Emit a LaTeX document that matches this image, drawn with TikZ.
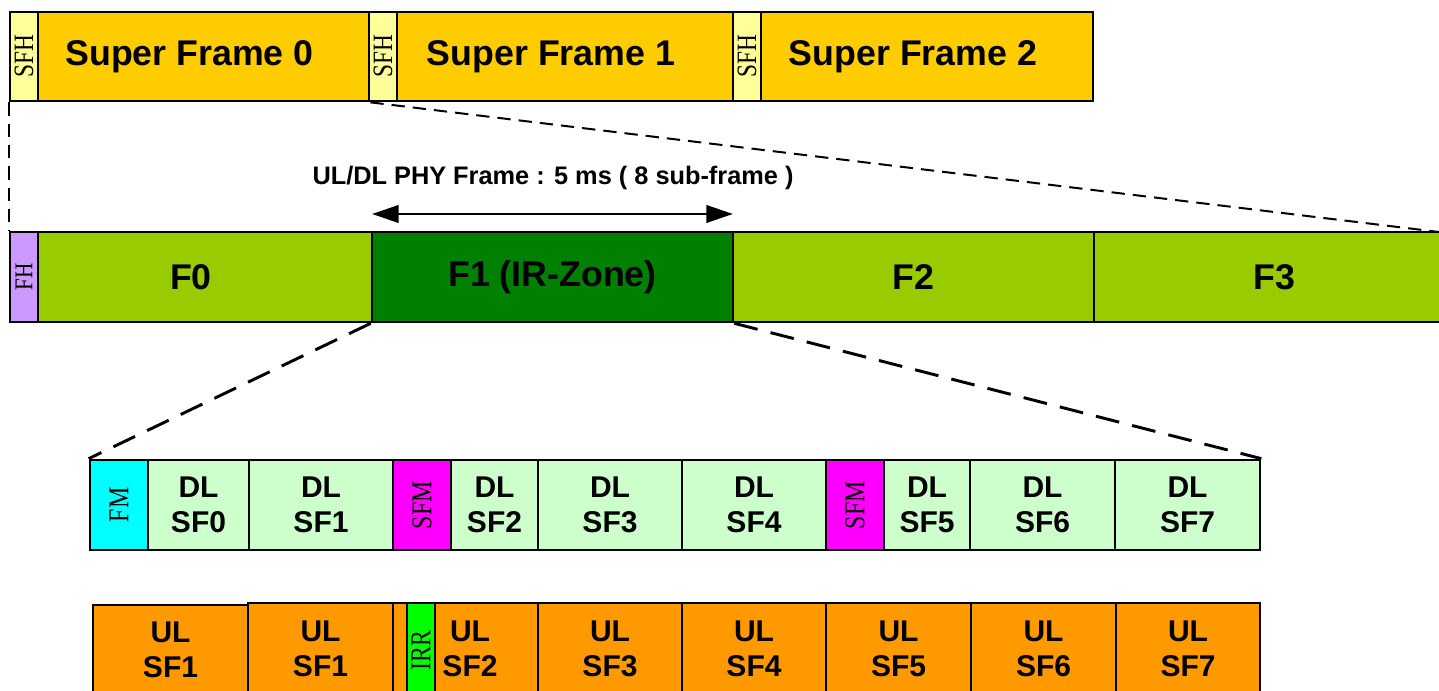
\documentclass[tikz,border=0pt]{standalone}
\usepackage{fontspec}
\setmainfont{Liberation Sans}
\newfontfamily\seriffont{Liberation Serif}
\usetikzlibrary{fit,arrows.meta}
\definecolor{sfc}{HTML}{FFCC00}
\definecolor{sfh}{HTML}{FFFF99}
\definecolor{fhc}{HTML}{CC99FF}
\definecolor{fc}{HTML}{99CC00}
\definecolor{firc}{HTML}{008000}
\definecolor{fmc}{HTML}{00FFFF}
\definecolor{sfmc}{HTML}{FF00FF}
\definecolor{dlc}{HTML}{CCFFCC}
\definecolor{ulc}{HTML}{FF9900}
\definecolor{irrc}{HTML}{00FF00}
\newcommand{\tallstr}[1]{\scalebox{1}[1.2]{#1}}
\tikzset{
  box/.style={draw=black, line width=2pt, inner sep=0pt},
  bigtxt/.style={font=\fontsize{26.8}{30}\selectfont\bfseries, inner sep=0pt},
  subtxt/.style={align=center, font=\fontsize{22.5}{26}\selectfont\bfseries, inner sep=0pt},
  vlabel/.style={rotate=90, font=\fontsize{17.5}{20}\selectfont\seriffont, inner sep=0pt},
  zoomA/.style={dash pattern=on 10pt off 6pt, line width=1.5pt},
  zoomB/.style={dash pattern=on 18pt off 10pt, line width=2.2pt},
  dlbox/.style={box, fill=dlc},
  ulbox/.style={box, fill=ulc},
}
\begin{document}
\begin{tikzpicture}[x=0.75pt,y=-0.75pt]
\useasboundingbox (0,0) rectangle (1439,691);
\clip (0,0) rectangle (1439,691);
% super frames
\node[box, fill=sfc, fit={(10,12) (369,101)}, label={[bigtxt]center:Super Frame 0}] (sf0) {};
\node[box, fill=sfc, fit={(369,12) (733,101)}, label={[bigtxt]center:Super Frame 1}] (sf1) {};
\node[box, fill=sfc, fit={(733,12) (1093,101)}, label={[bigtxt]center:Super Frame 2}] (sf2) {};
\node[box, fill=sfh, fit={(10,12) (38,101)}] (h0) {};
\node[box, fill=sfh, fit={(369,12) (397,101)}] (h1) {};
\node[box, fill=sfh, fit={(733,12) (761,101)}] (h2) {};
\node[vlabel] (h0t) at (h0) {\tallstr{SFH}};
\node[vlabel] (h1t) at (h1) {\tallstr{SFH}};
\node[vlabel] (h2t) at (h2) {\tallstr{SFH}};
% frames
\node[box, fill=fc, fit={(10,232) (372,322)}, label={[bigtxt]center:F0}] (f0) {};
\node[box, fill=firc, fit={(372,232) (733,322)}, label={[bigtxt]center:F1 (IR-Zone)}] (f1) {};
\node[box, fill=fc, fit={(733,232) (1094,322)}, label={[bigtxt]center:F2}] (f2) {};
\node[box, fill=fc, fit={(1094,232) (1455,322)}, label={[bigtxt]center:F3}] (f3) {};
\node[box, fill=fhc, fit={(10,232) (38,322)}] (fh) {};
\node[vlabel, font=\fontsize{16}{19}\selectfont\seriffont] (fht) at (fh) {\tallstr{FH}};
% arrow
\coordinate (a1) at (372,214);
\coordinate (a2) at (733,214);
\draw[line width=2.2pt, {Triangle[length=20pt,width=13pt]}-{Triangle[length=20pt,width=13pt]}] (a1) -- (a2);
\node[font=\fontsize{19}{22}\selectfont\bfseries] (lab) at (553,178) {UL/DL PHY Frame : 5 ms ( 8 sub-frame )};
% DL row
\node[box, fill=fmc, fit={(90,460) (148,550)}] (fm) {};
\node[dlbox, fit={(148,460) (249,550)}, label={[subtxt]center:DL\\SF0}] (dl0) {};
\node[dlbox, fit={(249,460) (393,550)}, label={[subtxt]center:DL\\SF1}] (dl1) {};
\node[box, fill=sfmc, fit={(393,460) (451,550)}] (sfm1) {};
\node[dlbox, fit={(451,460) (538,550)}, label={[subtxt]center:DL\\SF2}] (dl2) {};
\node[dlbox, fit={(538,460) (682,550)}, label={[subtxt]center:DL\\SF3}] (dl3) {};
\node[dlbox, fit={(682,460) (826,550)}, label={[subtxt]center:DL\\SF4}] (dl4) {};
\node[box, fill=sfmc, fit={(826,460) (884,550)}] (sfm2) {};
\node[dlbox, fit={(884,460) (970,550)}, label={[subtxt]center:DL\\SF5}] (dl5) {};
\node[dlbox, fit={(970,460) (1115,550)}, label={[subtxt]center:DL\\SF6}] (dl6) {};
\node[dlbox, fit={(1115,460) (1260,550)}, label={[subtxt]center:DL\\SF7}] (dl7) {};
\node[vlabel, font=\fontsize{18}{21}\selectfont\seriffont] (fmt) at (fm) {\tallstr{FM}};
\node[vlabel, font=\fontsize{18}{21}\selectfont\seriffont] (sfm1t) at (sfm1) {\tallstr{SFM}};
\node[vlabel, font=\fontsize{18}{21}\selectfont\seriffont] (sfm2t) at (sfm2) {\tallstr{SFM}};
% UL row
\node[ulbox, fit={(93,605) (248,695)}, label={[subtxt]center:UL\\SF1}] (ul0) {};
\node[ulbox, fit={(248,603) (393,695)}, label={[subtxt]center:UL\\SF1}] (ul1) {};
\node[ulbox, fit={(393,603) (538,695)}] (ul2) {};
\node[box, fill=irrc, fit={(407,603) (435,700)}] (irr) {};
\node[subtxt] (ul2t) at (470,649) {UL\\SF2};
\node[vlabel, font=\fontsize{18}{21}\selectfont\seriffont] (irrt) at (421,650) {\tallstr{IRR}};
\node[ulbox, fit={(538,603) (682,695)}, label={[subtxt]center:UL\\SF3}] (ul3) {};
\node[ulbox, fit={(682,603) (826,695)}, label={[subtxt]center:UL\\SF4}] (ul4) {};
\node[ulbox, fit={(826,603) (971,695)}, label={[subtxt]center:UL\\SF5}] (ul5) {};
\node[ulbox, fit={(971,603) (1116,695)}, label={[subtxt]center:UL\\SF6}] (ul6) {};
\node[ulbox, fit={(1116,603) (1260,695)}, label={[subtxt]center:UL\\SF7}] (ul7) {};
% zoom lines
\coordinate (fend) at (1439,232);
\draw[zoomA] (sf0.south west) -- (f0.north west);
\draw[zoomA] (sf0.south east) -- (fend);
\draw[zoomB] (f1.south west) -- (fm.north west);
\draw[zoomB] (f1.south east) -- (dl7.north east);
\end{tikzpicture}
\end{document}
